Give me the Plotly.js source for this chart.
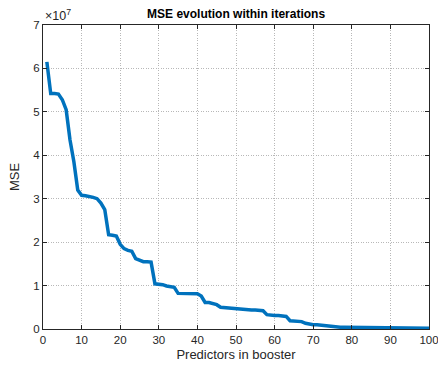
<!DOCTYPE html>
<html>
<head>
<meta charset="utf-8">
<script src="https://cdn.plot.ly/plotly-3.0.1.min.js"></script>
<style>html,body{margin:0;padding:0;background:#fff;}#chart{width:438px;height:368px;}</style>
</head>
<body>
<div id="chart"></div>
<script>
// Number of predictors in booster
const predictors = Array.from({length: 100}, (_, i) => i + 1);
// MSE in units of 1e7
const mse = [
  6.15, 5.42, 5.42, 5.41, 5.28, 5.05, 4.35, 3.85, 3.20, 3.08,
  3.07, 3.06, 3.03, 3.00, 2.90, 2.75, 2.17, 2.16, 2.14, 1.95,
  1.85, 1.81, 1.79, 1.62, 1.59, 1.55, 1.55, 1.54, 1.04, 1.04,
  1.02, 0.99, 0.98, 0.96, 0.82, 0.82, 0.82, 0.82, 0.81, 0.81,
  0.76, 0.61, 0.61, 0.59, 0.56, 0.50, 0.49, 0.48, 0.47, 0.47,
  0.46, 0.46, 0.45, 0.44, 0.44, 0.43, 0.42, 0.33, 0.31, 0.31,
  0.31, 0.30, 0.29, 0.19, 0.18, 0.18, 0.17, 0.13, 0.11, 0.10,
  0.10, 0.09, 0.08, 0.06, 0.045, 0.04, 0.04, 0.04, 0.04, 0.04,
  0.035, 0.035, 0.035, 0.03, 0.03, 0.03, 0.03, 0.028, 0.028, 0.027,
  0.026, 0.025, 0.025, 0.024, 0.023, 0.022, 0.022, 0.021, 0.02, 0.02
];
const xTicks = [0, 10, 20, 30, 40, 50, 60, 70, 80, 90, 100];
const yTicks = [0, 1, 2, 3, 4, 5, 6, 7];
const yTickText = ['0', '1', '2', '3', '4', '5', '6', '7'];

const axisColor = '#262626';
const fam = 'Liberation Sans, Arial, sans-serif';
const font = {family: fam, size: 11.5, color: axisColor};

const trace = {
  x: predictors, y: mse, type: 'scatter', mode: 'lines',
  line: {color: '#0072BD', width: 3.5},
  hoverinfo: 'skip'
};

const commonAxis = {
  showline: true, linecolor: axisColor, linewidth: 1, mirror: 'ticks',
  ticks: 'inside', ticklen: 4, tickcolor: axisColor, tickwidth: 1,
  showgrid: true, gridcolor: '#b8b8b8', griddash: '1px,1.5px', gridwidth: 1,
  zeroline: false, tickfont: font, fixedrange: true, ticklabeloverflow: 'allow'
};

const layout = {
  width: 438, height: 368,
  margin: {l: 43, r: 9, t: 25, b: 39},
  paper_bgcolor: '#ffffff', plot_bgcolor: '#ffffff',
  showlegend: false,
  title: {
    text: '<b>MSE evolution within iterations</b>',
    font: {family: fam, size: 12, color: '#000'},
    x: 0.539, xanchor: 'center', y: 0.963, yanchor: 'middle'
  },
  xaxis: Object.assign({}, commonAxis, {
    range: [0, 100], tickvals: xTicks, ticktext: xTicks.map(String),
    title: {text: 'Predictors in booster', font: {family: fam, size: 13, color: axisColor}, standoff: 5}
  }),
  yaxis: Object.assign({}, commonAxis, {
    range: [0, 7], tickvals: yTicks, ticktext: yTickText,
    title: {text: 'MSE', font: {family: fam, size: 13, color: axisColor}, standoff: 10}
  }),
  annotations: [{
    text: '×10<sup>7</sup>', xref: 'paper', yref: 'paper', x: 0.0, y: 1.0,
    xanchor: 'left', yanchor: 'bottom', showarrow: false,
    font: {family: fam, size: 12.5, color: axisColor}
  }]
};

Plotly.newPlot('chart', [trace], layout, {displayModeBar: false, staticPlot: true});
</script>
</body>
</html>
